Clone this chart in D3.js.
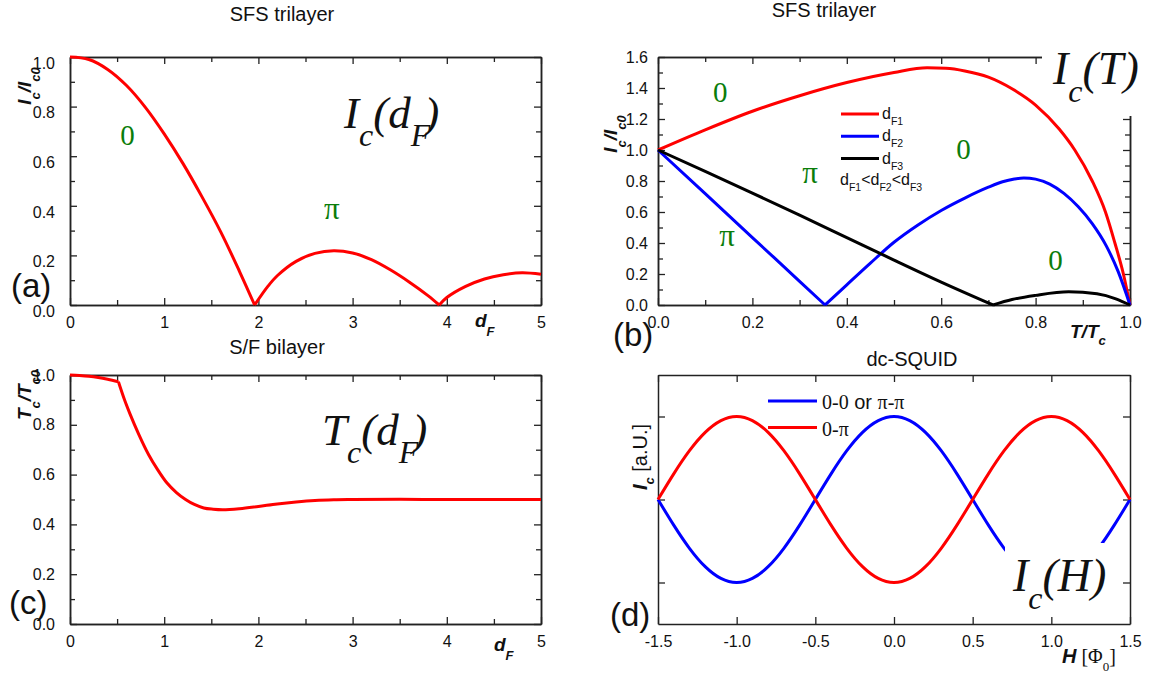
<!DOCTYPE html>
<html><head><meta charset="utf-8">
<script src="https://cdn.jsdelivr.net/npm/d3@7"></script>
<style>body{margin:0;background:#fff}svg{display:block}</style>
</head><body>
<script>
// ---------------- data ----------------
// (a) SFS trilayer, Ic(dF)
const dF_a = [0,0.2,0.4,0.6,0.8,1.0,1.2,1.4,1.6,1.8,1.96,2.1,2.2,2.4,2.6,2.8,3.0,3.2,3.4,3.6,3.8,3.92,4.0,4.2,4.4,4.6,4.8,5.0];
const Ic_a = [1.0,0.99,0.95,0.885,0.797,0.69,0.57,0.437,0.295,0.135,0,0.075,0.118,0.176,0.208,0.219,0.21,0.183,0.142,0.093,0.038,0,0.03,0.075,0.105,0.122,0.13,0.124];
// (b) SFS trilayer, Ic(T)
const T_red   = [0,0.1,0.2,0.3,0.4,0.5,0.57,0.61,0.65,0.7,0.75,0.8,0.85,0.883,0.92,0.948,0.968,0.986,1.0];
const Ic_red  = [1.0,1.13,1.25,1.35,1.435,1.5,1.53,1.527,1.51,1.47,1.395,1.29,1.135,1.0,0.8,0.6,0.4,0.2,0];
const T_blue  = [0,0.1,0.2,0.3,0.354,0.4,0.45,0.5,0.55,0.6,0.65,0.7,0.73,0.755,0.775,0.8,0.83,0.86,0.89,0.92,0.95,0.975,1.0];
const Ic_blue = [1.0,0.718,0.435,0.153,0,0.13,0.27,0.405,0.515,0.61,0.69,0.76,0.795,0.813,0.82,0.812,0.78,0.72,0.635,0.525,0.38,0.215,0];
const T_black = [0,0.1,0.2,0.3,0.4,0.5,0.6,0.71,0.75,0.8,0.87,0.93,0.97,1.0];
const Ic_black= [1.0,0.862,0.722,0.58,0.435,0.29,0.148,0,0.035,0.062,0.085,0.072,0.04,0];
const legendB = ["F1","F2","F3"];
// (c) S/F bilayer, Tc(dF)
const dF_c = [0,0.1,0.2,0.3,0.4,0.514,0.57,0.64,0.73,0.835,0.93,1.03,1.13,1.227,1.32,1.42,1.52,1.62,1.8,2.0,2.2,2.4,2.6,2.8,3.0,3.5,4.0,4.5,5.0];
const Tc_c = [1.0,0.998,0.995,0.99,0.983,0.973,0.91,0.841,0.762,0.68,0.62,0.566,0.528,0.5,0.48,0.466,0.461,0.459,0.463,0.472,0.482,0.49,0.496,0.499,0.5,0.501,0.5,0.5,0.5];
const cornersC = [0.514];
// (d) dc-SQUID, Ic(H)
const H_d = [-1.5,-1.4,-1.3,-1.2,-1.1,-1.0,-0.9,-0.8,-0.7,-0.6,-0.5,-0.4,-0.3,-0.2,-0.1,0,0.1,0.2,0.3,0.4,0.5,0.6,0.7,0.8,0.9,1.0,1.1,1.2,1.3,1.4,1.5];
const Ic_00  = [0,-0.309,-0.588,-0.809,-0.951,-1,-0.951,-0.809,-0.588,-0.309,0,0.309,0.588,0.809,0.951,1,0.951,0.809,0.588,0.309,0,-0.309,-0.588,-0.809,-0.951,-1,-0.951,-0.809,-0.588,-0.309,0];
const Ic_0pi = [0,0.309,0.588,0.809,0.951,1,0.951,0.809,0.588,0.309,0,-0.309,-0.588,-0.809,-0.951,-1,-0.951,-0.809,-0.588,-0.309,0,0.309,0.588,0.809,0.951,1,0.951,0.809,0.588,0.309,0];
const legendD = ["0-0 or π-π","0-π"];
// ticks
const ticksA_x = [0,1,2,3,4,5], ticksA_xm = [0.5,1.5,2.5,3.5,4.5];
const ticksA_y = [0,0.2,0.4,0.6,0.8,1.0], ticksA_ym = [0.1,0.3,0.5,0.7,0.9];
const ticksB_x = [0,0.2,0.4,0.6,0.8,1.0], ticksB_xm = [0.1,0.3,0.5,0.7,0.9];
const ticksB_y = [0,0.2,0.4,0.6,0.8,1.0,1.2,1.4,1.6], ticksB_ym = [0.1,0.3,0.5,0.7,0.9,1.1,1.3,1.5];
const ticksD_x = [-1.5,-1.0,-0.5,0,0.5,1.0,1.5], ticksD_y = [-1,0,1];

// ---------------- drawing ----------------
const svg = d3.select("body").append("svg").attr("width",1166).attr("height",675);
const SANS = "'Liberation Sans', Arial, sans-serif";
const SERIF = "'Liberation Serif', 'Times New Roman', serif";
const fmt1 = d => d.toFixed(1), fmt0 = d => String(d);
const none = () => "";

function axes(g, x, y, o) {
  const [X0,X1] = x.range(), [Y1,Y0] = y.range();
  const style = (sel) => {
    sel.select(".domain").attr("stroke","#222").attr("stroke-width",1.5);
    sel.selectAll(".tick line").attr("stroke","#222").attr("stroke-width",1.3);
    sel.attr("font-family",SANS).attr("font-size",16).selectAll("text").attr("fill","#111");
  };
  const add = (axis, tr) => { const s = g.append("g").attr("transform",tr).call(axis); style(s); return s; };
  add(d3.axisBottom(x).tickValues(o.xMajor).tickSizeInner(-7).tickSizeOuter(0).tickPadding(12).tickFormat(o.xFmt), `translate(0,${Y1})`);
  add(d3.axisTop(x).tickValues(o.xMajor).tickSizeInner(-7).tickSizeOuter(0).tickFormat(none), `translate(0,${Y0})`);
  const ly = add(d3.axisLeft(y).tickValues(o.yMajor).tickSizeInner(-7).tickSizeOuter(0).tickPadding(o.yPad||15).tickFormat(o.yFmt||none), `translate(${X0},0)`);
  if (o.yDy) ly.selectAll("text").attr("dy", o.yDy);
  add(d3.axisRight(y).tickValues(o.yMajor).tickSizeInner(-7).tickSizeOuter(0).tickFormat(none), `translate(${X1},0)`);
  if (o.xMinor) {
    add(d3.axisBottom(x).tickValues(o.xMinor).tickSizeInner(-5).tickSizeOuter(0).tickFormat(none), `translate(0,${Y1})`);
    add(d3.axisTop(x).tickValues(o.xMinor).tickSizeInner(-5).tickSizeOuter(0).tickFormat(none), `translate(0,${Y0})`);
  }
  if (o.yMinor) {
    add(d3.axisLeft(y).tickValues(o.yMinor).tickSizeInner(-5).tickSizeOuter(0).tickFormat(none), `translate(${X0},0)`);
    add(d3.axisRight(y).tickValues(o.yMinor).tickSizeInner(-5).tickSizeOuter(0).tickFormat(none), `translate(${X1},0)`);
  }
}

function segments(xs, ys, corners) {
  const segs = []; let cur = [];
  xs.forEach((xv,i) => {
    cur.push([xv, ys[i]]);
    const brk = (ys[i] === 0 || (corners && corners.includes(xv))) && i>0 && i<xs.length-1;
    if (brk) { segs.push(cur); cur = [[xv, ys[i]]]; }
  });
  segs.push(cur);
  return segs;
}
function curve(g, x, y, xs, ys, color, corners, cv) {
  const line = d3.line().x(d=>x(d[0])).y(d=>y(d[1])).curve(cv || d3.curveMonotoneX);
  g.append("path").attr("d", segments(xs, ys, corners).map(s=>line(s)).join(""))
    .attr("fill","none").attr("stroke",color).attr("stroke-width",3).attr("stroke-linejoin","round");
}

function rich(g, x, y, parts, base, rot) {
  const t = g.append("text").attr("font-family",base.font).attr("font-size",base.size)
    .attr("font-style",base.style||"normal").attr("font-weight",base.weight||"normal")
    .attr("fill",base.fill||"#111").attr("text-anchor",base.anchor||"start");
  if (rot) t.attr("transform",`translate(${x},${y}) rotate(-90)`); else t.attr("x",x).attr("y",y);
  let cur = 0;
  parts.forEach(p => {
    const off = p.sub ? (base.shift||base.size*0.4) : 0;
    const ts = t.append("tspan").text(p.t).attr("dy", off-cur);
    if (p.sub) ts.attr("font-size", base.subSize || base.size*0.7);
    if (p.font) ts.attr("font-family", p.font);
    if (p.weight) ts.attr("font-weight", p.weight);
    if (p.style) ts.attr("font-style", p.style);
    if (p.dx) ts.attr("dx", p.dx);
    cur = off;
  });
  return t;
}
function plain(g, x, y, txt, size, font, anchor, fill) {
  return g.append("text").attr("x",x).attr("y",y).text(txt).attr("font-size",size)
    .attr("font-family",font).attr("text-anchor",anchor||"start").attr("fill",fill||"#111");
}
const GREEN = "#0a7d0a";
const bigLabel = {font:SERIF, size:45, style:"italic", shift:18, subSize:32};
const axTitle = {font:SANS, size:19, style:"italic", weight:"bold", shift:9, subSize:13};

// ---------- panel (a) ----------
{
  const g = svg.append("g");
  const x = d3.scaleLinear().domain([0,5]).range([70,541]);
  const y = d3.scaleLinear().domain([0,1]).range([305,57]);
  axes(g, x, y, {xMajor:ticksA_x, xMinor:ticksA_xm, yMajor:ticksA_y, yMinor:ticksA_ym, xFmt:fmt0, yFmt:fmt1, yDy:"0.7em"});
  curve(g, x, y, dF_a, Ic_a, "#ff0000", null, d3.curveCatmullRom.alpha(0.5));
  plain(g, 282, 21, "SFS trilayer", 20, SANS, "middle");
  rich(g, 344, 128, [{t:"I"},{t:"c",sub:1},{t:"(d"},{t:"F",sub:1},{t:")",dx:-6}], bigLabel);
  plain(g, x(0.61), y(0.645), "0", 29, SERIF, "middle", GREEN);
  plain(g, x(2.78), y(0.345), "π", 31, SERIF, "middle", GREEN);
  rich(g, 475, 327, [{t:"d"},{t:"F",sub:1}], axTitle);
  rich(g, 31, 86, [{t:"I"},{t:"c",sub:1},{t:"/I"},{t:"c0",sub:1}], Object.assign({anchor:"middle", shift:6}, axTitle), true);
  plain(g, 11, 297, "(a)", 33, SANS);
}
// ---------- panel (b) ----------
{
  const g = svg.append("g");
  const x = d3.scaleLinear().domain([0,1]).range([658,1130]);
  const y = d3.scaleLinear().domain([0,1.6]).range([305,57]);
  axes(g, x, y, {xMajor:ticksB_x, xMinor:ticksB_xm, yMajor:ticksB_y, yMinor:ticksB_ym, xFmt:fmt1, yFmt:fmt1, yPad:10});
  g.append("rect").attr("x",1042).attr("y",40).attr("width",124).attr("height",62).attr("fill","#fff");
  g.append("rect").attr("x",1122).attr("y",40).attr("width",44).attr("height",76).attr("fill","#fff");
  curve(g, x, y, T_red, Ic_red, "#ff0000");
  curve(g, x, y, T_blue, Ic_blue, "#0000ff");
  curve(g, x, y, T_black, Ic_black, "#000000");
  plain(g, 824, 17, "SFS trilayer", 20, SANS, "middle");
  rich(g, 1053, 84, [{t:"I"},{t:"c",sub:1},{t:"(T)"}], Object.assign({}, bigLabel, {size:46}));
  const cols = ["#ff0000","#0000ff","#000000"];
  legendB.forEach((s,i) => {
    const yy = 114 + i*22.3;
    g.append("line").attr("x1",841).attr("x2",879).attr("y1",yy).attr("y2",yy).attr("stroke",cols[i]).attr("stroke-width",3);
    rich(g, 882, yy+5, [{t:"d"},{t:s,sub:1}], {font:SANS, size:16, shift:6, subSize:10.5});
  });
  rich(g, 840, 185, [{t:"d"},{t:legendB[0],sub:1},{t:"<d"},{t:legendB[1],sub:1},{t:"<d"},{t:legendB[2],sub:1}], {font:SANS, size:16, shift:6, subSize:10.5});
  plain(g, x(0.132), 102, "0", 29, SERIF, "middle", GREEN);
  plain(g, x(0.647), 159, "0", 29, SERIF, "middle", GREEN);
  plain(g, x(0.842), 270, "0", 29, SERIF, "middle", GREEN);
  plain(g, 810, 183, "π", 31, SERIF, "middle", GREEN);
  plain(g, 727, 246, "π", 31, SERIF, "middle", GREEN);
  rich(g, 1070, 338, [{t:"T/T"},{t:"c",sub:1}], Object.assign({}, axTitle, {shift:7}));
  rich(g, 617, 134, [{t:"I"},{t:"c",sub:1},{t:"/I"},{t:"c0",sub:1}], Object.assign({anchor:"middle", shift:6}, axTitle), true);
  plain(g, 613, 346, "(b)", 33, SANS);
}
// ---------- panel (c) ----------
{
  const g = svg.append("g");
  const x = d3.scaleLinear().domain([0,5]).range([70,541]);
  const y = d3.scaleLinear().domain([0,1]).range([624,375]);
  axes(g, x, y, {xMajor:ticksA_x, xMinor:ticksA_xm, yMajor:ticksA_y, yMinor:ticksA_ym, xFmt:fmt0, yFmt:fmt1});
  curve(g, x, y, dF_c, Tc_c, "#ff0000", cornersC);
  plain(g, 277, 354, "S/F bilayer", 20, SANS, "middle");
  rich(g, 322, 445, [{t:"T"},{t:"c",sub:1},{t:"(d"},{t:"F",sub:1},{t:")",dx:-6}], bigLabel);
  rich(g, 494, 651, [{t:"d"},{t:"F",sub:1}], axTitle);
  rich(g, 31, 395, [{t:"T"},{t:"c",sub:1},{t:"/T"},{t:"c0",sub:1}], Object.assign({anchor:"middle", shift:6}, axTitle), true);
  plain(g, 9, 614, "(c)", 33, SANS);
}
// ---------- panel (d) ----------
{
  const g = svg.append("g");
  const x = d3.scaleLinear().domain([-1.5,1.5]).range([658,1130]);
  const y = d3.scaleLinear().domain([-1.5,1.5]).range([624,375]);
  axes(g, x, y, {xMajor:ticksD_x, yMajor:ticksD_y, xFmt:fmt1, yFmt:null});
  curve(g, x, y, H_d, Ic_00, "#0000ff", null, d3.curveNatural);
  curve(g, x, y, H_d, Ic_0pi, "#ff0000", null, d3.curveNatural);
  g.append("rect").attr("x",1005).attr("y",543).attr("width",99).attr("height",69).attr("fill","#fff");
  rich(g, 1013, 591, [{t:"I"},{t:"c",sub:1},{t:"(H)"}], Object.assign({}, bigLabel, {size:46}));
  plain(g, 912, 366, "dc-SQUID", 20, SANS, "middle");
  const cols = ["#0000ff","#ff0000"];
  legendD.forEach((s,i) => {
    const yy = 401 + i*26.5;
    g.append("line").attr("x1",768).attr("x2",817).attr("y1",yy).attr("y2",yy).attr("stroke",cols[i]).attr("stroke-width",3);
  });
  const l0 = legendD[0].split(" or ");
  const t0 = plain(g, 822, 409, "", 20, SERIF);
  t0.append("tspan").text(l0[0]);
  t0.append("tspan").text(" or ").attr("font-family",SANS);
  t0.append("tspan").text(l0[1]);
  plain(g, 822, 435.5, legendD[1], 20, SERIF);
  rich(g, 1062, 663, [{t:"H",weight:"bold",style:"italic",font:SANS},{t:" [Φ"},{t:"0",sub:1},{t:"]"}], {font:SERIF, size:20, shift:8, subSize:13});
  rich(g, 647, 457, [{t:"I",weight:"bold",style:"italic"},{t:"c",sub:1,weight:"bold",style:"italic"},{t:" [a.U.]"}], {font:SANS, size:20, anchor:"middle", shift:7, subSize:13}, true);
  plain(g, 610, 626, "(d)", 33, SANS);
}
</script>
</body></html>
